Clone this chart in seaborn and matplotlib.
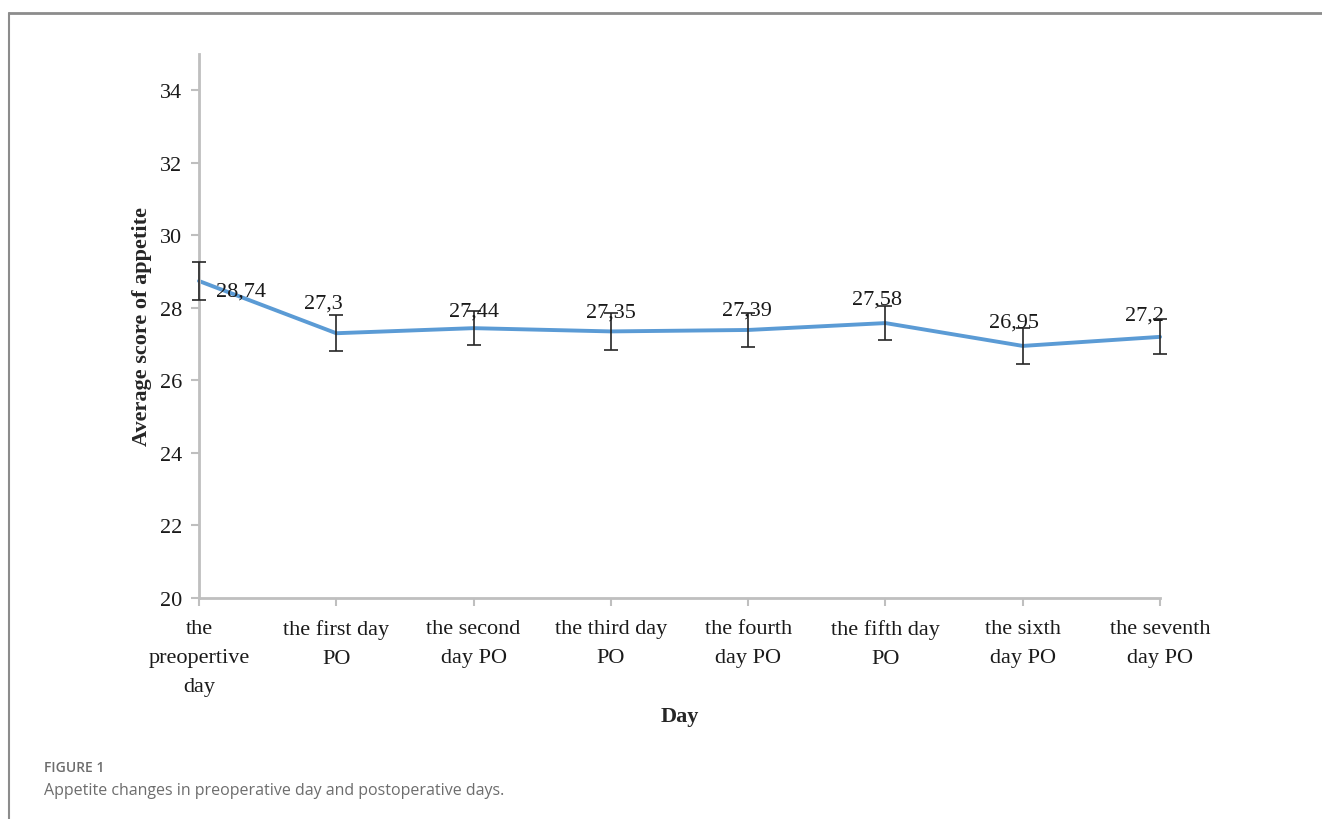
import numpy as np
import pandas as pd
import seaborn as sns
import matplotlib.pyplot as plt
from matplotlib.lines import Line2D

# data
days = ['the\npreopertive\nday', 'the first day\nPO', 'the second\nday PO', 'the third day\nPO',
        'the fourth\nday PO', 'the fifth day\nPO', 'the sixth\nday PO', 'the seventh\nday PO']
scores = [28.74, 27.3, 27.44, 27.35, 27.39, 27.58, 26.95, 27.2]
errors = [0.52, 0.5, 0.47, 0.5, 0.47, 0.47, 0.5, 0.48]
score_labels = ['28,74', '27,3', '27,44', '27,35', '27,39', '27,58', '26,95', '27,2']
y_ticks = [20, 22, 24, 26, 28, 30, 32, 34]

# label offsets in points (style only)
label_offsets = [(30, -7), (-9, 22), (0, 12), (0, 14), (-1, 14), (-6, 17), (-6, 17), (-11, 16)]

sns.set_style('white')
plt.rcParams['font.family'] = ['Liberation Serif', 'DejaVu Serif']

df = pd.DataFrame({'pos': np.arange(len(days)), 'score': scores, 'err': errors})

fig = plt.figure(figsize=(13.22, 8.2), dpi=100)
ax = fig.add_axes([0.1505, 0.2695, 0.727, 0.6635])

eb = ax.errorbar(df['pos'], df['score'], yerr=df['err'], fmt='none', ecolor='#262626',
                 elinewidth=1.2, capsize=5, capthick=1.2, zorder=3)
for art in eb.lines[1] + eb.lines[2]:
    art.set_clip_on(False)
sns.lineplot(data=df, x='pos', y='score', ax=ax, color='#5b9bd5', linewidth=2.8,
             errorbar=None, zorder=2)
ax.lines[-1].set_clip_on(False)

for i, (lab, off) in enumerate(zip(score_labels, label_offsets)):
    ax.annotate(lab, (df['pos'][i], df['score'][i]), xytext=off, textcoords='offset points',
                ha='center', va='center', fontsize=16, color='#1a1a1a', zorder=4)

ax.set_xlim(0, len(days) - 1)
ax.set_ylim(20, 35)
ax.set_xticks(df['pos'])
ax.set_xticklabels(days, fontsize=16, color='#1a1a1a')
for t in ax.get_xticklabels():
    t.set_linespacing(1.72)
ax.set_yticks(y_ticks)
ax.set_yticklabels([str(t) for t in y_ticks], fontsize=16, color='#1a1a1a')

for s in ['top', 'right']:
    ax.spines[s].set_visible(False)
for s in ['left', 'bottom']:
    ax.spines[s].set_color('#bfbfbf')
    ax.spines[s].set_linewidth(2)
ax.tick_params(axis='both', which='major', direction='out', color='#bfbfbf', width=1.5,
               length=6, pad=6, left=True, bottom=True)
ax.tick_params(axis='x', pad=9)

ax.set_xlabel('Day', fontsize=16, fontweight='bold', labelpad=7)
ax.set_ylabel('Average score of appetite', fontsize=16, fontweight='bold', labelpad=6)

# journal frame and caption
fig.add_artist(Line2D([0.0068, 1.0], [0.983, 0.983], transform=fig.transFigure,
                      color='#8c8c8c', linewidth=2))
fig.add_artist(Line2D([0.0068, 0.0068], [0.0, 0.983], transform=fig.transFigure,
                      color='#8c8c8c', linewidth=1.5))
fig.text(0.033, 0.059, 'FIGURE 1', fontsize=10, fontweight='semibold', color='#6d6d6d',
         family=['Open Sans', 'DejaVu Sans'])
fig.text(0.033, 0.031, 'Appetite changes in preoperative day and postoperative days.',
         fontsize=11.5, color='#6d6d6d', family=['Open Sans', 'DejaVu Sans'])

fig.savefig('out.png', dpi=100)
